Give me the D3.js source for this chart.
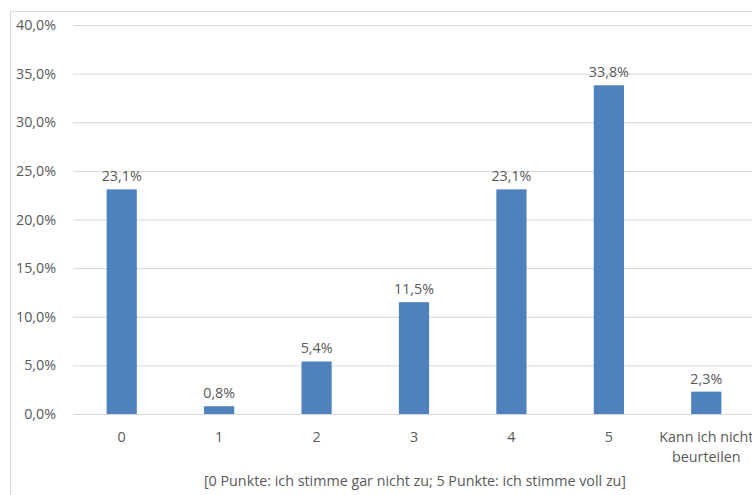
<!DOCTYPE html>
<html>
<head>
<meta charset="utf-8">
<script src="https://cdn.jsdelivr.net/npm/d3@7"></script>
<style>
  html, body { margin: 0; padding: 0; background: #fff; overflow: hidden; }
  svg { display: block; }
  text { font-family: "Open Sans", "Liberation Sans", sans-serif; fill: #595959; }
</style>
</head>
<body>
<script>
// Antwortverteilung der Bewertungsskala
const categories = ["0", "1", "2", "3", "4", "5", "Kann ich nicht beurteilen"];
const shares = [23.1, 0.8, 5.4, 11.5, 23.1, 33.8, 2.3];
const yTicks = [0, 5, 10, 15, 20, 25, 30, 35, 40];
const axisTitle = "[0 Punkte: ich stimme gar nicht zu; 5 Punkte: ich stimme voll zu]";

const W = 752, H = 495;
const margin = { left: 73, right: -3, top: 25, bottom: 81 };
const fs = "14.3px";

const svg = d3.select("body").append("svg")
  .attr("width", W).attr("height", H);

// chart frame (extends past the right and bottom edges)
svg.append("rect")
  .attr("x", 10.5).attr("y", 11.5)
  .attr("width", W + 20).attr("height", H + 20)
  .attr("fill", "#fff").attr("stroke", "#d9d9d9");

const x = d3.scaleBand()
  .domain(categories)
  .range([margin.left, W - margin.right])
  .paddingInner(0.69).paddingOuter(0.345);

const y = d3.scaleLinear()
  .domain([0, 40])
  .range([H - margin.bottom, margin.top]);

const fmt = v => d3.format(".1f")(v).replace(".", ",") + "%";

// gridlines and value axis
const yAxis = d3.axisLeft(y)
  .tickValues(yTicks)
  .tickFormat(fmt)
  .tickSize(-(W - margin.right - margin.left))
  .tickPadding(17);

const gy = svg.append("g")
  .attr("transform", `translate(${margin.left},0)`)
  .call(yAxis);
gy.select(".domain").remove();
gy.selectAll(".tick line").attr("stroke", "#d9d9d9").attr("stroke-width", 1);
gy.selectAll(".tick text").style("font-size", fs).attr("fill", "#595959");

// bars
svg.append("g").selectAll("rect")
  .data(shares)
  .join("rect")
  .attr("x", (d, i) => x(categories[i]))
  .attr("width", x.bandwidth())
  .attr("y", d => y(d))
  .attr("height", d => y(0) - y(d))
  .attr("fill", "#4f81bd");

// value labels
svg.append("g").selectAll("text")
  .data(shares)
  .join("text")
  .attr("x", (d, i) => x(categories[i]) + x.bandwidth() / 2)
  .attr("y", d => y(d) - 8)
  .attr("text-anchor", "middle")
  .style("font-size", fs)
  .text(fmt);

// category labels
const catLines = c => c === "Kann ich nicht beurteilen" ? ["Kann ich nicht", "beurteilen"] : [c];
const cl = svg.append("g").selectAll("text")
  .data(categories)
  .join("text")
  .attr("x", c => x(c) + x.bandwidth() / 2)
  .attr("y", y(0) + 28)
  .attr("text-anchor", "middle")
  .style("font-size", fs);
cl.selectAll("tspan")
  .data(c => catLines(c))
  .join("tspan")
  .attr("x", function () { return d3.select(this.parentNode).attr("x"); })
  .attr("dy", (d, i) => i === 0 ? 0 : 20)
  .text(d => d);

// axis title
svg.append("text")
  .attr("x", 415)
  .attr("y", 486)
  .attr("text-anchor", "middle")
  .style("font-size", fs)
  .text(axisTitle);
</script>
</body>
</html>
